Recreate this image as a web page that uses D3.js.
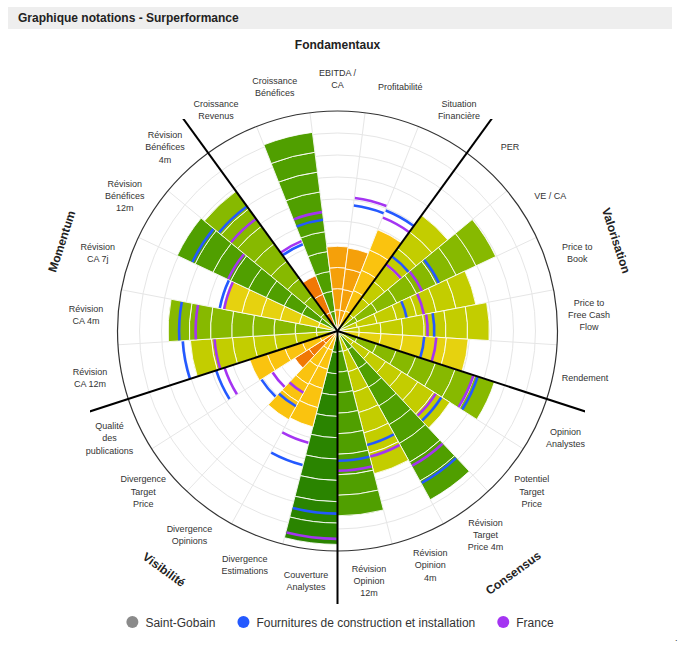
<!DOCTYPE html>
<html>
<head>
<meta charset="utf-8">
<script src="https://cdn.jsdelivr.net/npm/d3@7/dist/d3.min.js"></script>
<style>
  body { margin: 0; background: #fff; font-family: "Liberation Sans", Arial, sans-serif; }
</style>
</head>
<body>
<svg id="chart" width="680" height="647"></svg>
<script>
// categories, clockwise, starting at the first axis of "Fondamentaux"
const categories = [
  "Croissance Revenus", "Croissance Bénéfices", "EBITDA / CA", "Profitabilité", "Situation Financière",
  "PER", "VE / CA", "Price to Book", "Price to Free Cash Flow", "Rendement",
  "Opinion Analystes", "Potentiel Target Price", "Révision Target Price 4m", "Révision Opinion 4m", "Révision Opinion 12m",
  "Couverture Analystes", "Divergence Estimations", "Divergence Opinions", "Divergence Target Price", "Qualité des publications",
  "Révision CA 12m", "Révision CA 4m", "Révision CA 7j", "Révision Bénéfices 12m", "Révision Bénéfices 4m"
];
const groups = ["Fondamentaux", "Valorisation", "Consensus", "Visibilité", "Momentum"];

// Saint-Gobain (bars)
const companyScores = [2.7, 9.1, 3.85, 3.8, 4.95, 6.5, 7.95, 6.4, 6.9, 5.95,
  7.5, 6.05, 8.75, 6.7, 8.4, 9.7, 4.5, 4.6, 2.3, 4.2, 6.7, 7.7, 5.3, 8.05, 7.85];
// sector (blue arcs)
const sectorScores = [4.25, 5.1, null, 5.75, 5.9, 4.2, 5.1, 3.2, 4.4, 3.95,
  6.7, 5.6, 7.9, 5.35, 5.9, 8.3, 6.3, 3.9, 4.1, 5.8, 7.05, 7.2, 5.45, 7.3, 7.0];
// country (purple arcs)
const countryScores = [4.4, 5.45, null, 6.1, 5.55, 3.75, 4.25, 4.0, 4.1, 4.5,
  6.5, 5.3, 7.0, 5.9, 6.35, 9.45, 5.25, 3.2, 3.5, 5.4, 5.6, 6.45, 5.25, 5.5, 6.3];

const seriesNames = ["Saint-Gobain", "Fournitures de construction et installation", "France"];
const seriesColors = ["#8a8a8a", "#2459ff", "#a434f2"];

const scoreSteps = [3, 4, 5, 6, 7, 8, 9.5];
const scoreColors = ["#f07805", "#f5a00a", "#fac30f", "#e6d20f", "#c3cd00", "#87b900", "#509f00", "#2a8400"];

const svg = d3.select("#chart");
const cx = 337.5, cy = 331, R = 220;

// header
svg.append("rect").attr("x", 8).attr("y", 7).attr("width", 664).attr("height", 22).attr("fill", "#eeeeee");
svg.append("text").attr("x", 18).attr("y", 22)
   .style("font-size", "12px").style("font-weight", "bold").attr("fill", "#222")
   .text("Graphique notations - Surperformance");

// plot box, used to clip the group dividers
svg.append("clipPath").attr("id", "plotbox")
  .append("rect").attr("x", 90 - cx).attr("y", 119 - cy).attr("width", 495).attr("height", 485);

const g = svg.append("g").attr("transform", `translate(${cx},${cy})`);

const start = -Math.PI / 5;
const x = d3.scaleBand().domain(categories).range([start, start + 2 * Math.PI]).padding(0);
const y = d3.scaleLinear().domain([0, 10]).range([0, R]);
const color = d3.scaleThreshold().domain(scoreSteps).range(scoreColors);

const pt = (a, r) => [r * Math.sin(a), -r * Math.cos(a)];

// grid circles
g.selectAll(".ring").data(d3.range(1, 10)).join("circle")
  .attr("r", d => y(d)).attr("fill", "none").attr("stroke", "#e6e6e6").attr("stroke-width", 1);

// radial grid lines at category edges
g.selectAll(".spoke").data(categories).join("line")
  .attr("x1", 0).attr("y1", 0)
  .attr("x2", d => pt(x(d), R)[0]).attr("y2", d => pt(x(d), R)[1])
  .attr("stroke", "#e6e6e6").attr("stroke-width", 1);

// bars: each score split into ceil(score) equal blocks
const arc = d3.arc();
const blocks = [];
categories.forEach((c, i) => {
  const v = companyScores[i];
  const n = Math.ceil(v);
  for (let k = 0; k < n; k++) {
    blocks.push({c, v, r0: v * k / n, r1: v * (k + 1) / n});
  }
});
g.selectAll(".block").data(blocks).join("path")
  .attr("d", d => arc({innerRadius: y(d.r0), outerRadius: y(d.r1),
                       startAngle: x(d.c), endAngle: x(d.c) + x.bandwidth()}))
  .attr("fill", d => color(d.v))
  .attr("stroke", "#fff").attr("stroke-width", 1).attr("stroke-opacity", 0.85);

// sector / country markers
function markers(values, col) {
  const pts = categories.map((c, i) => ({c, v: values[i]})).filter(d => d.v != null);
  g.append("g").selectAll("path").data(pts).join("path")
    .attr("d", d => arc({innerRadius: y(d.v) - 1.3, outerRadius: y(d.v) + 1.3,
                         startAngle: x(d.c) + 0.004, endAngle: x(d.c) + x.bandwidth() - 0.004}))
    .attr("fill", col);
}
markers(sectorScores, seriesColors[1]);
markers(countryScores, seriesColors[2]);

// outer circle
g.append("circle").attr("r", R).attr("fill", "none").attr("stroke", "#333").attr("stroke-width", 1.2);

// group dividers
g.append("g").attr("clip-path", "url(#plotbox)")
  .selectAll("line").data(groups).join("line")
  .attr("x1", 0).attr("y1", 0)
  .attr("x2", (d, i) => pt(start + i * 2 * Math.PI / 5, 400)[0])
  .attr("y2", (d, i) => pt(start + i * 2 * Math.PI / 5, 400)[1])
  .attr("stroke", "#000").attr("stroke-width", 2);

// category labels
function wrap(text, maxW) {
  text.each(function() {
    const t = d3.select(this);
    const words = t.text().split(" ");
    t.text(null);
    const lines = [];
    let line = [];
    const probe = t.append("tspan");
    words.forEach(w => {
      line.push(w);
      probe.text(line.join(" "));
      if (probe.node().getComputedTextLength() > maxW && line.length > 1) {
        line.pop();
        lines.push(line.join(" "));
        line = [w];
      }
    });
    lines.push(line.join(" "));
    probe.remove();
    const lh = 12.3;
    lines.forEach((l, j) => {
      t.append("tspan").attr("x", t.attr("x"))
        .attr("dy", j === 0 ? (-(lines.length - 1) / 2 * lh + 3) : lh).text(l);
    });
  });
}
g.selectAll(".cat").data(categories).join("text")
  .attr("x", d => pt(x(d) + x.bandwidth() / 2, 252)[0])
  .attr("y", d => pt(x(d) + x.bandwidth() / 2, 252)[1])
  .attr("text-anchor", "middle")
  .style("font-size", "9px").attr("fill", "#333")
  .text(d => d)
  .call(wrap, 45);

// group labels (flipped ones sit a little further out)
const groupR = [286, 293, 299, 295, 290];
g.selectAll(".grp").data(groups).join("text")
  .attr("transform", (d, i) => {
    const deg = i * 72;
    const p = pt(deg * Math.PI / 180, groupR[i]);
    const rot = (deg > 90 && deg < 270) ? deg - 180 : (deg >= 270 ? deg - 360 : deg);
    return `translate(${p[0]},${p[1]}) rotate(${rot})`;
  })
  .attr("text-anchor", "middle").attr("dy", "0.35em")
  .style("font-size", "12px").style("font-weight", "bold").attr("fill", "#222")
  .text(d => d);

// legend
const leg = svg.append("g");
let lx = 0;
seriesNames.forEach((n, i) => {
  const it = leg.append("g");
  it.append("circle").attr("cx", 6).attr("cy", 0).attr("r", 6).attr("fill", seriesColors[i]);
  const tx = it.append("text").attr("x", 19).attr("y", 4.5)
    .style("font-size", "12px").attr("fill", "#333").text(n);
  const w = 19 + tx.node().getComputedTextLength();
  it.attr("transform", `translate(${lx},622)`);
  lx += w + 22;
});
const legW = lx - 22;
leg.attr("transform", `translate(${340 - legW / 2},0)`);

svg.append("text").attr("x", 675).attr("y", 641).style("font-size", "9px").attr("fill", "#333").text(".");
</script>
</body>
</html>
